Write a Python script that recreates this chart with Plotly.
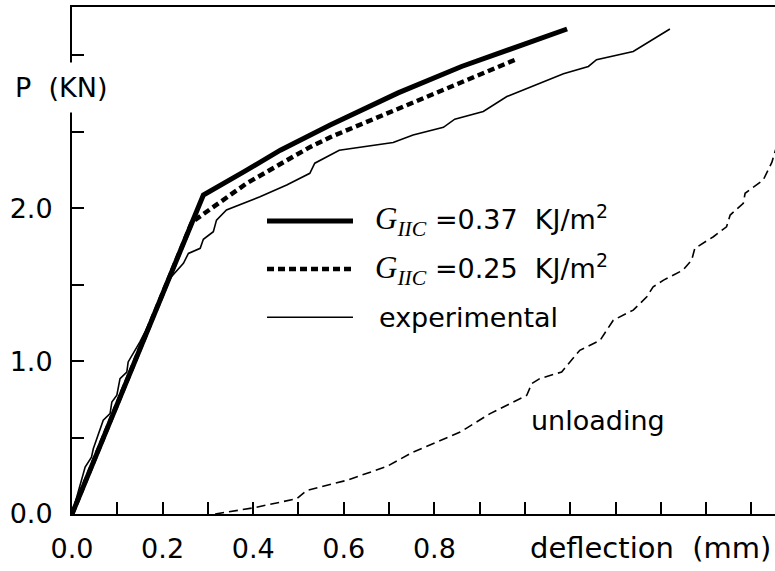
import plotly.graph_objects as go

# ---- data (deflection in mm, load P in kN) ----
g037_x = [0.0, 0.29, 0.38, 0.46, 0.57, 0.72, 0.86, 1.01, 1.093]
g037_y = [0.0, 2.087, 2.24, 2.38, 2.545, 2.755, 2.928, 3.083, 3.173]

g025_x = [0.0, 0.265, 0.386, 0.525, 0.57, 0.717, 0.864, 0.982]
g025_y = [0.0, 1.91, 2.164, 2.40, 2.465, 2.65, 2.83, 2.976]

exp_x = [0.0, 0.029, 0.043, 0.047, 0.069, 0.084, 0.088, 0.099, 0.106, 0.121, 0.124,
         0.15, 0.18, 0.20, 0.216, 0.246, 0.257, 0.283, 0.29, 0.312, 0.319, 0.341,
         0.415, 0.474, 0.525, 0.536, 0.57, 0.59, 0.709, 0.753, 0.82, 0.845, 0.908,
         0.96, 1.085, 1.14, 1.158, 1.239, 1.32]
exp_y = [0.0, 0.307, 0.372, 0.427, 0.613, 0.657, 0.733, 0.777, 0.886, 0.929, 0.995,
         1.126, 1.30, 1.44, 1.541, 1.64, 1.705, 1.738, 1.797, 1.847, 1.923, 1.989,
         2.076, 2.153, 2.229, 2.295, 2.349, 2.38, 2.43, 2.48, 2.53, 2.583, 2.633,
         2.731, 2.88, 2.928, 2.972, 3.026, 3.173]

unl_x = [0.316, 0.40, 0.496, 0.518, 0.606, 0.695, 0.753, 0.857, 0.923, 1.004, 1.015,
         1.033, 1.081, 1.121, 1.136, 1.166, 1.195, 1.239, 1.269, 1.283, 1.306, 1.349,
         1.368, 1.375, 1.416, 1.445, 1.453, 1.482, 1.486, 1.526, 1.545, 1.56]
unl_y = [0.0, 0.04, 0.10, 0.154, 0.22, 0.311, 0.405, 0.536, 0.657, 0.777, 0.853,
         0.886, 0.929, 1.071, 1.093, 1.137, 1.268, 1.334, 1.421, 1.486, 1.53, 1.596,
         1.661, 1.738, 1.814, 1.879, 1.956, 2.033, 2.098, 2.185, 2.30, 2.45]

x_tickvals = [round(0.1 * i, 1) for i in range(16)]
x_ticktext = ["0.0", "", "0.2", "", "0.4", "", "0.6", "", "0.8", "", "", "", "", "", "", ""]
y_tickvals = [0.0, 0.5, 1.0, 1.5, 2.0, 2.5, 3.0]
y_ticktext = ["0.0", "", "1.0", "", "2.0", "", ""]

SERIF = "style='font-family:Liberation Serif;font-size:31px'"
legend_labels = [
    f"<span {SERIF}><i>G</i><sub><i>IIC</i></sub></span> =0.37  KJ/m<sup>2</sup>",
    f"<span {SERIF}><i>G</i><sub><i>IIC</i></sub></span> =0.25  KJ/m<sup>2</sup>",
    "experimental",
]

FONT = "DejaVu Sans"
FS = 27

fig = go.Figure()
fig.add_trace(go.Scatter(x=g037_x, y=g037_y, mode="lines",
                         line=dict(color="black", width=5), showlegend=False))
fig.add_trace(go.Scatter(x=g025_x, y=g025_y, mode="lines",
                         line=dict(color="black", width=4.5, dash="7px,4px"), showlegend=False))
fig.add_trace(go.Scatter(x=exp_x, y=exp_y, mode="lines",
                         line=dict(color="black", width=1.6), showlegend=False))
fig.add_trace(go.Scatter(x=unl_x, y=unl_y, mode="lines",
                         line=dict(color="black", width=1.6, dash="9px,5px"), showlegend=False))

# manual legend (paper coordinates)
leg_styles = [dict(width=5), dict(width=4.5, dash="7px,4px"), dict(width=1.6)]
leg_y = [0.578, 0.483, 0.388]
leg_tx = [0.428, 0.428, 0.434]
for st, ly, tx, lab in zip(leg_styles, leg_y, leg_tx, legend_labels):
    fig.add_shape(type="line", xref="paper", yref="paper", x0=0.2774, x1=0.3997,
                  y0=ly, y1=ly, line=dict(color="black", **st))
    fig.add_annotation(xref="paper", yref="paper", x=tx, y=ly, text=lab,
                       showarrow=False, xanchor="left", yanchor="middle",
                       font=dict(family=FONT, size=FS, color="black"))

fig.add_annotation(xref="paper", yref="paper", x=0.748, y=0.185, text="unloading",
                   showarrow=False, xanchor="center", yanchor="middle",
                   font=dict(family=FONT, size=FS, color="black"))
fig.add_annotation(xref="paper", yref="paper", x=0.997, y=-0.068, text="deflection  (mm)",
                   showarrow=False, xanchor="right", yanchor="middle",
                   font=dict(family=FONT, size=29, color="black"))
fig.add_annotation(xref="paper", x=-0.095, yref="y", y=2.79, text="P  (KN)",
                   showarrow=False, xanchor="left", yanchor="middle",
                   bgcolor="white", borderpad=9,
                   font=dict(family=FONT, size=FS, color="black"))

fig.update_layout(
    width=775, height=571,
    margin=dict(l=72, r=0, t=7, b=57),
    paper_bgcolor="white", plot_bgcolor="white",
    font=dict(family=FONT, size=FS, color="black"),
    xaxis=dict(range=[0, 1.552], tickvals=x_tickvals, ticktext=x_ticktext,
               ticks="inside", ticklen=12, tickwidth=1.5, tickcolor="black",
               showline=True, linecolor="black", linewidth=2, mirror=True,
               showgrid=False, zeroline=False, ticklabelstandoff=10),
    yaxis=dict(range=[0, 3.317], tickvals=y_tickvals, ticktext=y_ticktext,
               ticks="inside", ticklen=12, tickwidth=1.5, tickcolor="black",
               showline=True, linecolor="black", linewidth=2,
               showgrid=False, zeroline=False, ticklabelstandoff=12),
)

fig.write_html("out.html")
